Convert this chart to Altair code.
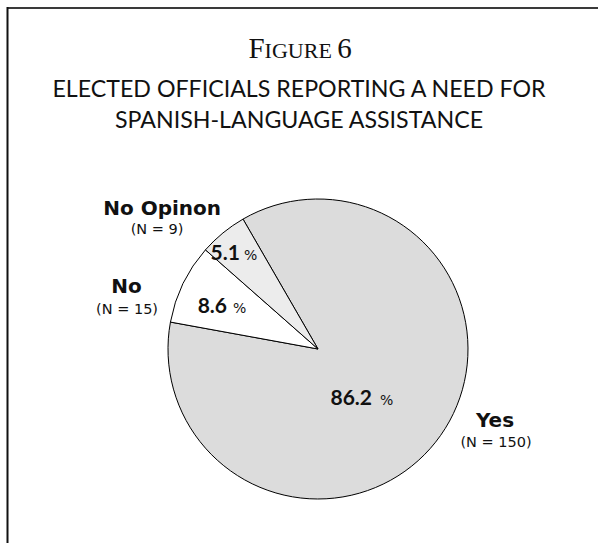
import math
import altair as alt
import pandas as pd

# ---- data ----
categories = ["Yes", "No", "No Opinon"]
counts = [150, 15, 9]
percents = ["86.2", "8.6", "5.1"]
n_labels = ["(N = 150)", "(N = 15)", "(N = 9)"]
fills = ["#dcdcdc", "#ffffff", "#ececec"]

title_parts = ["F", "IGURE", "6"]
subtitle_lines = ["ELECTED OFFICIALS REPORTING A NEED FOR",
                  "SPANISH-LANGUAGE ASSISTANCE"]

# ---- derived table ----
total = sum(counts)
starts, ends, mids = [], [], []
acc = 0
for c in counts:
    starts.append(acc)
    acc += c
    ends.append(acc)
    mids.append((starts[-1] + ends[-1]) / 2)

df = pd.DataFrame({
    "category": categories, "count": counts, "pct": percents,
    "n": n_labels, "start": starts, "end": ends, "mid": mids,
})

# ---- layout / style ----
W, H = 598, 543
CX, CY, R = 318, 349, 150
start_angle = math.radians(330)
theta_scale = alt.Scale(domain=[0, total], range=[start_angle, start_angle + 2 * math.pi])
color_scale = alt.Scale(domain=categories, range=fills)

# per-category label placement
pct_layout = {
    "Yes": (79, -10.6, -2.6, 10.5),
    "No": (95, -5.5, 0.5, 5.4),
    "No Opinon": (117, -3.9, 0.1, 1.5),
}
out_layout = {
    "Yes": (190, 21.7, -31.4, 22.7, -11.4),
    "No": (200, -11.5, 31.2, -11.0, 52.2),
    "No Opinon": (205, -26.0, 24.6, -31.1, 43.6),
}

pos = dict(x=alt.value(CX), y=alt.value(CY))

pie = alt.Chart(df).mark_arc(radius=R, stroke="black", strokeWidth=1).encode(
    theta=alt.Theta("start:Q", scale=theta_scale),
    theta2="end:Q",
    color=alt.Color("category:N", scale=color_scale, legend=None),
    **pos,
)

layers = [pie]
for cat in categories:
    base = alt.Chart(df).transform_filter(alt.datum.category == cat)
    th = alt.Theta("mid:Q", scale=theta_scale, stack=False)
    pr, ndx, sdx, pdy = pct_layout[cat]
    layers.append(base.mark_text(
        radius=pr, dx=ndx, dy=pdy, align="right", baseline="alphabetic",
        font="Lato", fontWeight="bold", fontSize=21, color="#111111",
    ).encode(theta=th, text="pct:N", **pos))
    layers.append(base.mark_text(
        radius=pr, dx=sdx, dy=pdy, align="left", baseline="alphabetic",
        font="DejaVu Sans", fontSize=14, color="#111111", text="%",
    ).encode(theta=th, **pos))
    orr, adx, ady, bdx, bdy = out_layout[cat]
    layers.append(base.mark_text(
        radius=orr, dx=adx, dy=ady, align="center", baseline="alphabetic",
        font="DejaVu Sans", fontWeight="bold", fontSize=20, color="#111111",
    ).encode(theta=th, text="category:N", **pos))
    layers.append(base.mark_text(
        radius=orr, dx=bdx, dy=bdy, align="center", baseline="alphabetic",
        font="DejaVu Sans", fontSize=14.5, color="#111111",
    ).encode(theta=th, text="n:N", **pos))

# ---- titles ----
one = pd.DataFrame({"k": [0]})
title_specs = [
    (title_parts[0], 248.5, 29),
    (title_parts[1], 264.6, 22),
    (title_parts[2], 337.3, 29),
]
for txt, x, fs in title_specs:
    layers.append(alt.Chart(one).mark_text(
        text=txt, align="left", baseline="alphabetic", font="Liberation Serif",
        fontSize=fs, color="#111111",
    ).encode(x=alt.value(x), y=alt.value(58)))

for line, yb in zip(subtitle_lines, [97, 128]):
    layers.append(alt.Chart(one).mark_text(
        text=line, align="center", baseline="alphabetic", font="Lato",
        fontSize=23.2, color="#111111",
    ).encode(x=alt.value(299), y=alt.value(yb)))

# ---- frame ----
layers.append(alt.Chart(one).mark_rule(color="#3a3a3a", strokeWidth=2).encode(
    x=alt.value(7), x2=alt.value(W), y=alt.value(8)))
layers.append(alt.Chart(one).mark_rule(color="#111111", strokeWidth=2).encode(
    x=alt.value(7.5), y=alt.value(7), y2=alt.value(H)))

chart = alt.layer(*layers).properties(
    width=W, height=H, padding=0,
    autosize=alt.AutoSizeParams(type="none"),
).configure_view(stroke=None)

chart.save("out.html", embed_options={"renderer": "svg", "actions": False})
